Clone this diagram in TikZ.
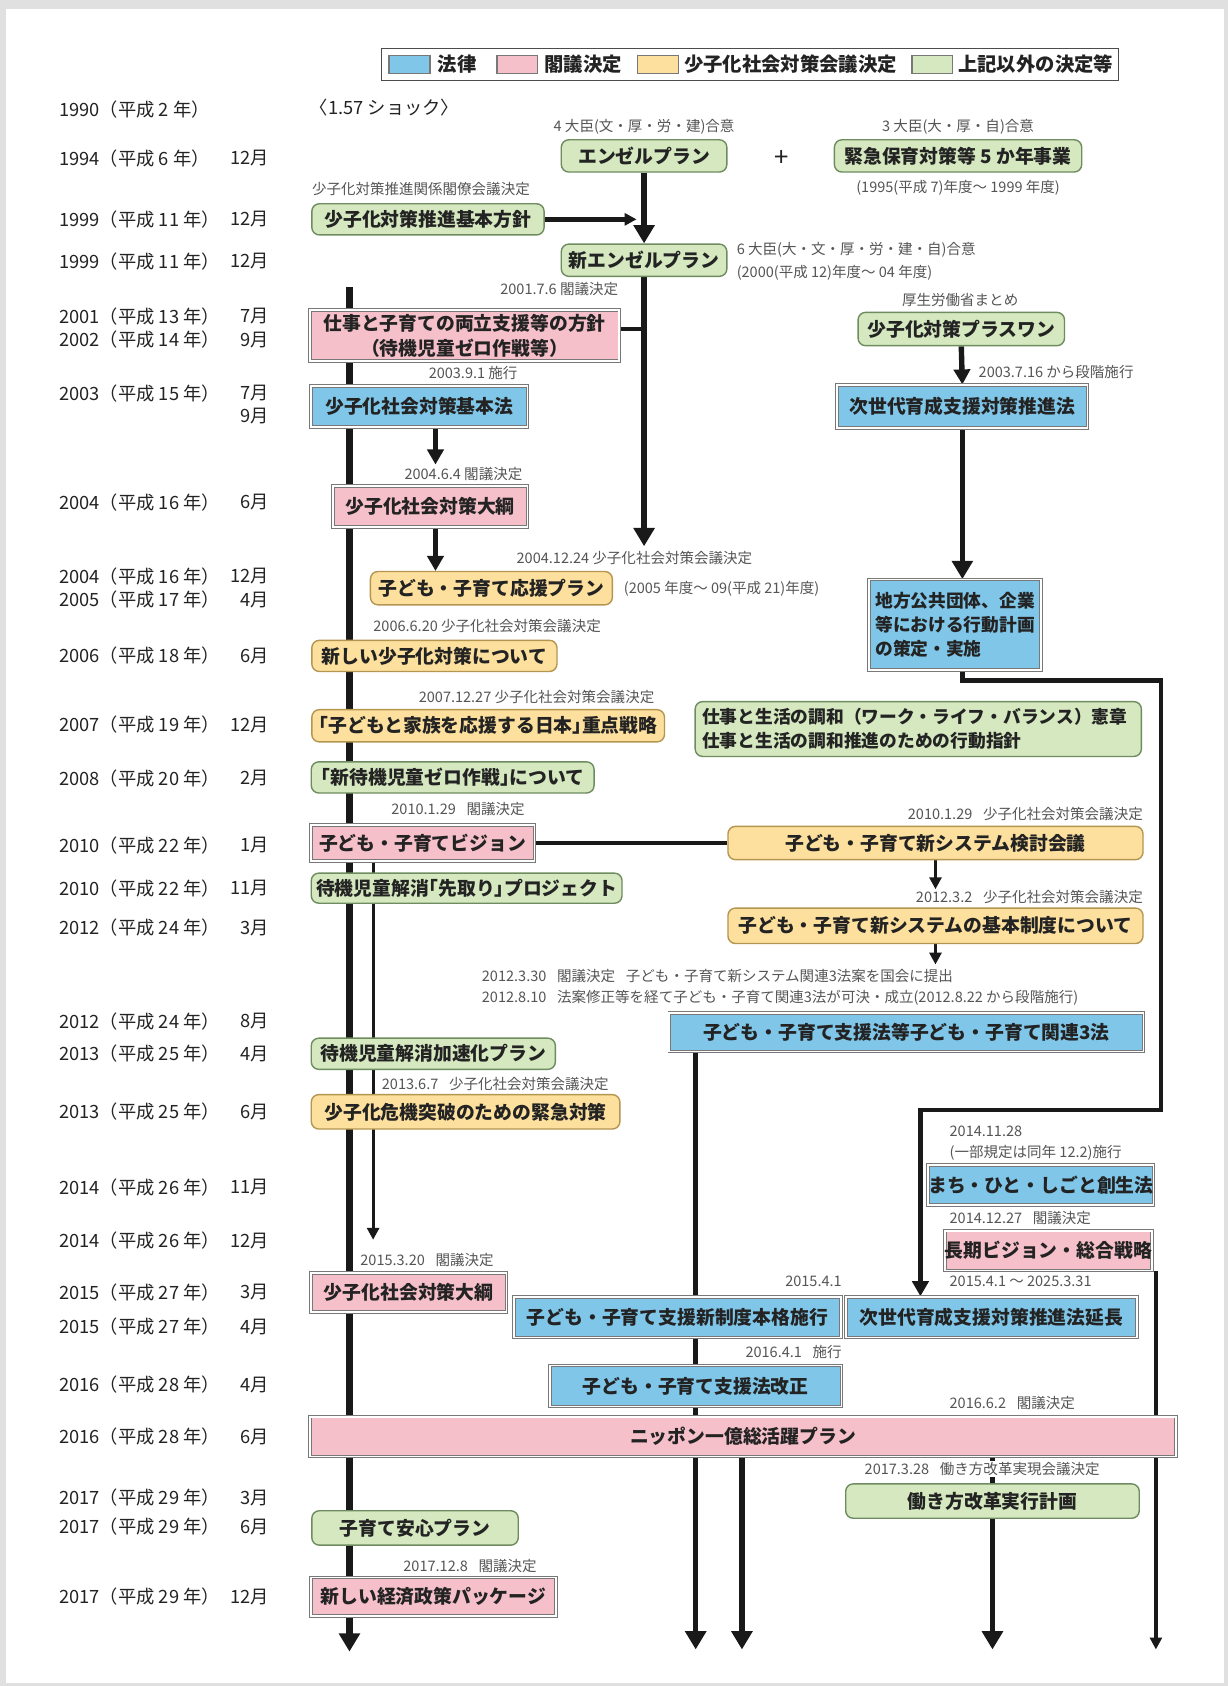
\documentclass[tikz,border=0pt]{standalone}
\usepackage{fontspec}
\setmainfont{Noto Sans CJK JP}
\usetikzlibrary{arrows.meta}
\pgfdeclarelayer{back}
\pgfdeclarelayer{bg}
\pgfsetlayers{back,bg,main}
\newcommand{\kagiL}{\makebox[0.5em][r]{「}}
\newcommand{\kagiR}{\makebox[0.5em][l]{」}}
\definecolor{cblue}{RGB}{128,198,232}
\definecolor{cpink}{RGB}{246,192,202}
\definecolor{cyel}{RGB}{253,224,158}
\definecolor{cgreen}{RGB}{213,232,192}
\definecolor{gbord}{RGB}{110,140,95}
\definecolor{ybord}{RGB}{180,150,80}
\definecolor{rbord}{RGB}{120,120,120}
\definecolor{txt}{RGB}{35,35,35}
\definecolor{lblc}{RGB}{85,85,85}
\tikzset{
 boxtext/.style={font=\bfseries\fontsize{17.5}{23}\selectfont, text=txt, inner sep=0pt, align=center},
 rbox/.style={boxtext, rounded corners=7pt, line width=1.3pt, minimum height=30pt},
 gbox/.style={rbox, fill=cgreen, draw=gbord},
 ybox/.style={rbox, fill=cyel, draw=ybord},
 sbox/.style={boxtext, rectangle, draw=rbord, line width=0.9pt, double=white, double distance=1.6pt, minimum height=36pt},
 bbox/.style={sbox, fill=cblue},
 pbox/.style={sbox, fill=cpink},
 yr/.style={font=\fontsize{17}{20}\selectfont, text=txt, anchor=west, inner sep=0pt},
 mo/.style={font=\fontsize{17}{20}\selectfont, text=txt, anchor=east, inner sep=0pt},
 lbl/.style={font=\fontsize{13.5}{16}\selectfont, text=lblc, inner sep=0pt},
 swatch/.style={draw=rbord, line width=1.5pt, minimum width=38pt, minimum height=17pt, inner sep=0pt},
 legtext/.style={font=\bfseries\fontsize{18}{20}\selectfont, text=txt, anchor=west, inner sep=0pt},
 ln6/.style={line width=6pt, draw=black!90},
 ln5/.style={line width=5pt, draw=black!90},
 ln4/.style={line width=4pt, draw=black!90},
 ln3/.style={line width=3pt, draw=black!90},
 bigarr/.style={-{Triangle[width=19pt,length=17pt]}},
 midarr/.style={-{Triangle[width=15pt,length=14pt]}},
 smallarr/.style={-{Triangle[width=11pt,length=11pt]}},
}
\begin{document}
\begin{tikzpicture}[x=1pt,y=-1pt]
\useasboundingbox (0,0) rectangle (1142,1568);
\begin{pgfonlayer}{back}
\fill[black!12] (0,0) rectangle (1142,1568);
\fill[white] (6,8) rectangle (1138,1565);
\end{pgfonlayer}

% legend
\node[draw=black!70, line width=1pt, minimum width=685pt, minimum height=30pt, inner sep=0pt] (legend) at (697.5,60) {};
\node[swatch, fill=cblue] (sw1) at (381,60) {};
\node[legtext] (lt1) at (407,60) {法律};
\node[swatch, fill=cpink] (sw2) at (481,60) {};
\node[legtext] (lt2) at (506,60) {閣議決定};
\node[swatch, fill=cyel] (sw3) at (612,60) {};
\node[legtext] (lt3) at (636,60) {少子化社会対策会議決定};
\node[swatch, fill=cgreen] (sw4) at (867,60) {};
\node[legtext] (lt4) at (891,60) {上記以外の決定等};

% year labels
\foreach \yy/\tt/\mm [count=\i] in {102/1990（平成 2 年）/, 147/1994（平成 6 年）/12月, 204/1999（平成 11 年）/12月, 243/1999（平成 11 年）/12月, 294/2001（平成 13 年）/7月, 316/2002（平成 14 年）/9月, 366/2003（平成 15 年）/7月, 387//9月, 467/2004（平成 16 年）/6月, 536/2004（平成 16 年）/12月, 558/2005（平成 17 年）/4月, 610/2006（平成 18 年）/6月, 674/2007（平成 19 年）/12月, 724/2008（平成 20 年）/2月, 786/2010（平成 22 年）/1月, 826/2010（平成 22 年）/11月, 863/2012（平成 24 年）/3月, 950/2012（平成 24 年）/8月, 980/2013（平成 25 年）/4月, 1034/2013（平成 25 年）/6月, 1104/2014（平成 26 年）/11月, 1154/2014（平成 26 年）/12月, 1202/2015（平成 27 年）/3月, 1234/2015（平成 27 年）/4月, 1288/2016（平成 28 年）/4月, 1336/2016（平成 28 年）/6月, 1393/2017（平成 29 年）/3月, 1420/2017（平成 29 年）/6月, 1485/2017（平成 29 年）/12月}
{
  \node[yr] (yr\i) at (55,\yy) {\tt};
  \node[mo] (mo\i) at (250,\yy) {\mm};
}

\node[yr] (shock) at (288,100) {〈1.57 ショック〉};

% boxes
\node[gbox, minimum width=154pt] (angel) at (599,145) {エンゼルプラン};
\node[font=\fontsize{24}{24}\selectfont, text=txt, inner sep=0pt] (plus) at (727,147) {+};
\node[gbox, minimum width=230pt] (kinkyu) at (891,145) {緊急保育対策等 5 か年事業};
\node[gbox, minimum width=216pt, minimum height=29pt] (hoshin) at (398,204) {少子化対策推進基本方針};
\node[gbox, minimum width=154pt] (newangel) at (599,242) {新エンゼルプラン};
\node[pbox, minimum width=288pt, minimum height=48pt] (ryoritsu) at (432,312) {仕事と子育ての両立支援等の方針\\（待機児童ゼロ作戦等）};
\node[bbox, minimum width=201pt, minimum height=38pt] (kihonhou) at (390,378) {少子化社会対策基本法};
\node[pbox, minimum width=181pt, minimum height=38pt] (taiko1) at (400,471) {少子化社会対策大綱};
\node[ybox, minimum width=225pt, minimum height=31pt] (ouen) at (457,547) {子ども・子育て応援プラン};
\node[ybox, minimum width=228pt, minimum height=29pt] (atarashii) at (404,610) {新しい少子化対策について};
\node[ybox, minimum width=328pt] (juten) at (454,675) {\kagiL 子どもと家族を応援する日本\kagiR 重点戦略};
\node[gbox, minimum width=263pt, minimum height=29pt] (zero) at (421,723) {\kagiL 新待機児童ゼロ作戦\kagiR について};
\node[pbox, minimum width=208pt, minimum height=34pt] (vision) at (393,784) {子ども・子育てビジョン};
\node[ybox, minimum width=386pt, minimum height=31pt] (kento) at (870,784) {子ども・子育て新システム検討会議};
\node[gbox, minimum width=289pt, minimum height=28pt] (sakidori) at (434,826) {待機児童解消\kagiL 先取り\kagiR プロジェクト};
\node[ybox, minimum width=386pt, minimum height=33pt] (seido) at (870,861) {子ども・子育て新システムの基本制度について};
\node[bbox, minimum width=441pt, minimum height=36pt] (sanpo) at (843,960) {子ども・子育て支援法等子ども・子育て関連3法};
\node[gbox, minimum width=227pt, minimum height=29pt] (kasoku) at (403,980) {待機児童解消加速化プラン};
\node[ybox, minimum width=287pt, minimum height=32pt] (kiki) at (433,1034) {少子化危機突破のための緊急対策};
\node[bbox, minimum width=200pt, minimum height=37pt] (machi) at (968,1102) {まち・ひと・しごと創生法};
\node[pbox, minimum width=185pt, minimum height=37pt] (choki) at (975,1163) {長期ビジョン・総合戦略};
\node[pbox, minimum width=182pt, minimum height=36pt] (taiko2) at (380,1202) {少子化社会対策大綱};
\node[bbox, minimum width=304pt, minimum height=38pt] (honkaku) at (630,1225) {子ども・子育て支援新制度本格施行};
\node[bbox, minimum width=271pt, minimum height=38pt] (encho) at (922,1225) {次世代育成支援対策推進法延長};
\node[bbox, minimum width=271pt, minimum height=38pt] (kaisei) at (647,1289) {子ども・子育て支援法改正};
\node[pbox, minimum width=805pt, minimum height=37pt] (nippon) at (691,1336) {ニッポン一億総活躍プラン};
\node[gbox, minimum width=273pt, minimum height=32pt] (hatarakikata) at (923,1396) {働き方改革実行計画};
\node[gbox, minimum width=192pt, minimum height=32pt] (anshin) at (386,1421) {子育て安心プラン};
\node[pbox, minimum width=228pt, minimum height=36pt] (keizai) at (403,1485) {新しい経済政策パッケージ};
\node[gbox, minimum width=192pt, minimum height=31pt] (plusone) at (894,306) {少子化対策プラスワン};
\node[bbox, minimum width=233pt, minimum height=40pt] (jisedai) at (895,378) {次世代育成支援対策推進法};
\node[bbox, minimum width=160pt, minimum height=84pt, align=left, text width=148pt, font=\bfseries\fontsize{16.5}{22}\selectfont] (chiho) at (888,581) {地方公共団体、企業\\等における行動計画\\の策定・実施};
\node[gbox, minimum width=415pt, minimum height=51pt, align=left, text width=402pt, font=\bfseries\fontsize{16.5}{22}\selectfont] (wlb) at (854,678) {仕事と生活の調和（ワーク・ライフ・バランス）憲章\\仕事と生活の調和推進のための行動指針};

% labels
\node[lbl] (l1) at (599,118) {4 大臣(文・厚・労・建)合意};
\node[lbl] (l2) at (891,118) {3 大臣(大・厚・自)合意};
\node[lbl] (l3) at (891,175) {(1995(平成 7)年度～ 1999 年度)};
\node[lbl, anchor=west] (l4) at (290,176) {少子化対策推進関係閣僚会議決定};
\node[lbl, anchor=west] (l5) at (685,232) {6 大臣(大・文・厚・労・建・自)合意};
\node[lbl, anchor=west] (l6) at (685,254) {(2000(平成 12)年度～ 04 年度)};
\node[lbl, anchor=east] (l7) at (575,269) {2001.7.6 閣議決定};
\node[lbl] (l8) at (440,347) {2003.9.1 施行};
\node[lbl] (l9) at (431,441) {2004.6.4 閣議決定};
\node[lbl] (l10) at (893,279) {厚生労働省まとめ};
\node[lbl, anchor=west] (l11) at (910,346) {2003.7.16 から段階施行};
\node[lbl] (l12) at (590,519) {2004.12.24 少子化社会対策会議決定};
\node[lbl, anchor=west] (l13) at (580,548) {(2005 年度～ 09(平成 21)年度)};
\node[lbl] (l14) at (453,582) {2006.6.20 少子化社会対策会議決定};
\node[lbl] (l15) at (499,648) {2007.12.27 少子化社会対策会議決定};
\node[lbl] (l16) at (426,752) {2010.1.29\hspace{10pt}閣議決定};
\node[lbl, anchor=east] (l17) at (1063,757) {2010.1.29\hspace{10pt}少子化社会対策会議決定};
\node[lbl, anchor=east] (l18) at (1063,834) {2012.3.2\hspace{10pt}少子化社会対策会議決定};
\node[lbl, anchor=west] (l19) at (448,908) {2012.3.30\hspace{10pt}閣議決定\hspace{10pt}子ども・子育て新システム関連3法案を国会に提出};
\node[lbl, anchor=west] (l20) at (448,928) {2012.8.10\hspace{10pt}法案修正等を経て子ども・子育て関連3法が可決・成立(2012.8.22 から段階施行)};
\node[lbl, anchor=west] (l21) at (355,1008) {2013.6.7\hspace{10pt}少子化社会対策会議決定};
\node[lbl, anchor=west] (l22) at (883,1052) {2014.11.28};
\node[lbl, anchor=west] (l23) at (883,1072) {(一部規定は同年 12.2)施行};
\node[lbl, anchor=west] (l24) at (883,1133) {2014.12.27\hspace{10pt}閣議決定};
\node[lbl, anchor=west] (l25) at (335,1172) {2015.3.20\hspace{10pt}閣議決定};
\node[lbl, anchor=east] (l26) at (783,1192) {2015.4.1};
\node[lbl, anchor=west] (l27) at (883,1192) {2015.4.1 ～ 2025.3.31};
\node[lbl, anchor=east] (l28) at (783,1257) {2016.4.1\hspace{10pt}施行};
\node[lbl, anchor=west] (l29) at (883,1305) {2016.6.2\hspace{10pt}閣議決定};
\node[lbl, anchor=west, fill=white, inner sep=1pt] (l30) at (803,1366) {2017.3.28\hspace{10pt}働き方改革実現会議決定};
\node[lbl, anchor=west] (l31) at (375,1456) {2017.12.8\hspace{10pt}閣議決定};

% coordinates for connector ends
\coordinate (mainTop) at (325,267);
\coordinate (mainEnd) at (325,1536);
\coordinate (c592) at (592,204);
\coordinate (e599) at (599,508);
\coordinate (r306) at (599,306);
\coordinate (e405a) at (405,432);
\coordinate (e405b) at (405,531);
\coordinate (a405) at (405,0);
\coordinate (a347) at (347,0);
\coordinate (e347) at (347,1153);
\coordinate (a647) at (647,0);
\coordinate (e647) at (647,1534);
\coordinate (a690) at (690,0);
\coordinate (e690) at (690,1534);
\coordinate (a923) at (923,0);
\coordinate (e923) at (923,1534);
\coordinate (a1075) at (1075,0);
\coordinate (e1075) at (1075,1534);
\coordinate (k827) at (870,827);
\coordinate (k897) at (870,897);
\coordinate (loopA) at (1080,633);
\coordinate (loopB) at (1080,1032);
\coordinate (loopC) at (856,1032);

\begin{pgfonlayer}{bg}
\draw[ln6, bigarr] (mainTop) -- (mainEnd);
\draw[ln5, bigarr] (angel.south) -- (newangel.north);
\draw[ln4, smallarr] (hoshin.east) -- (c592);
\draw[ln5, bigarr] (newangel.south) -- (e599);
\draw[ln4] (ryoritsu.east |- r306) -- (r306);
\draw[ln5, midarr] (kihonhou.south -| a405) -- (e405a);
\draw[ln5, midarr] (taiko1.south -| a405) -- (e405b);
\draw[ln5, midarr] (plusone.south) -- (jisedai.north);
\draw[ln5, bigarr] (jisedai.south) -- (chiho.north -| jisedai.south);
\draw[ln4, midarr, line join=miter] (chiho.south -| jisedai.south) |- (loopA) -- (loopB) -- (loopC) -- (encho.north -| loopC);
\draw[ln4] (vision.east) -- (kento.west);
\draw[ln3, smallarr] (kento.south) -- (k827);
\draw[ln3, smallarr] (seido.south) -- (k897);
\draw[ln3, smallarr] (vision.south -| a347) -- (e347);
\draw[ln5, bigarr] (sanpo.south -| a647) -- (e647);
\draw[ln5, bigarr] (nippon.south -| a690) -- (e690);
\draw[ln5, bigarr] (nippon.south -| a923) -- (e923);
\draw[ln3, smallarr] (choki.south -| a1075) -- (e1075);
\end{pgfonlayer}
\end{tikzpicture}
\end{document}
